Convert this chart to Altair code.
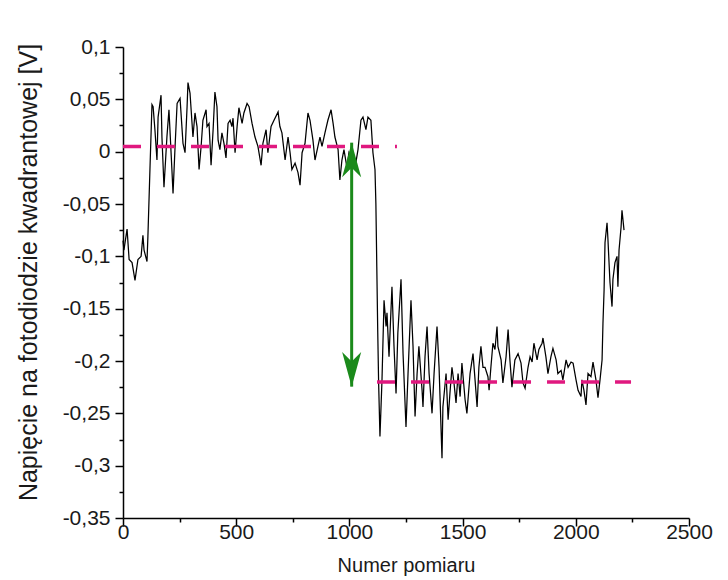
import altair as alt
import pandas as pd

meas = [0, 4, 18, 27, 40, 53, 66, 80, 88, 93, 106, 110, 119, 128, 133, 141, 150, 155, 168, 172,
        181, 194, 203, 216, 221, 230, 239, 252, 265, 274, 283, 287, 296, 309, 318, 327, 336, 345,
        353, 367, 371, 380, 389, 398, 406, 415, 420, 428, 437, 446, 455, 464, 473, 481, 486, 495,
        504, 512, 526, 534, 548,
        557, 570, 583, 596, 610, 618, 632, 640, 654, 667, 685, 693, 702, 716, 729, 738, 746, 760,
        773, 782, 791, 804, 817, 826, 839, 848, 861, 870, 879, 892, 905, 919, 928, 936, 950, 958,
        967, 976, 989, 998, 1011, 1025, 1038, 1051, 1060, 1073, 1082, 1095, 1104, 1113,
        1117, 1121, 1125, 1129, 1135, 1144, 1153, 1162, 1166, 1175, 1188, 1197, 1206, 1214, 1228,
        1237, 1250, 1259, 1272, 1281, 1290, 1299, 1307, 1321, 1325, 1334, 1343, 1352, 1365, 1374,
        1387, 1396, 1409, 1413, 1427, 1436, 1444, 1453, 1462, 1471, 1480, 1489, 1497, 1511, 1519,
        1533, 1546, 1555, 1564, 1572, 1581, 1590,
        1599, 1612, 1617, 1625, 1634, 1643, 1652, 1656, 1670, 1678, 1692, 1701, 1709, 1718, 1731,
        1745, 1758, 1767, 1776, 1789, 1798, 1807, 1815, 1829, 1837, 1851, 1855, 1868, 1877, 1890,
        1899, 1913, 1921, 1935, 1943, 1957, 1966, 1979, 1988, 2001, 2010, 2023, 2027, 2036, 2045,
        2054, 2067, 2076, 2089, 2098, 2107, 2116, 2120, 2125, 2129, 2138, 2142, 2151, 2160, 2164,
        2173, 2182, 2186, 2191, 2200, 2204, 2213]
volt = [-0.085, -0.094, -0.074, -0.103, -0.106, -0.123, -0.103, -0.100, -0.080, -0.094, -0.105,
        -0.081, -0.017, 0.045, 0.043, 0.021, -0.008, 0.033, 0.054, 0.014,
        -0.034, 0.014, 0.040, -0.017, -0.040, 0.005, 0.046, 0.051, 0.008, -0.001, 0.043, 0.066,
        0.056, 0.014, 0.037, 0.024, -0.017, 0.005, 0.030, 0.040, 0.024, 0.027, -0.013, 0.021,
        0.057, 0.043, 0.011, 0.002, 0.018, 0.008, -0.006, 0.027, 0.030, 0.024, 0.032, -0.001,
        0.024, 0.042, 0.027, 0.037, 0.046,
        0.043, 0.027, 0.014, 0.005, -0.013, 0.008, 0.021, -0.001, 0.024, 0.030, 0.038, 0.024,
        0.018, -0.008, 0.014, -0.001, -0.017, -0.011, -0.020, -0.032, -0.001, 0.008, 0.037,
        0.030, 0.011, -0.008, 0.005, 0.014, 0.005, 0.018, 0.030, 0.040, 0.027, 0.014, 0.002,
        -0.027, -0.008, 0.002, -0.015, -0.001, -0.008, -0.015, 0.002, 0.030, 0.033, 0.021,
        0.033, 0.030, -0.001, -0.017,
        -0.050, -0.110, -0.170, -0.220, -0.272, -0.218, -0.142, -0.167, -0.154, -0.196, -0.129,
        -0.186, -0.231, -0.173, -0.122, -0.193, -0.263, -0.212, -0.142, -0.186, -0.253, -0.212,
        -0.186, -0.228, -0.244, -0.196, -0.167, -0.212, -0.250, -0.212, -0.167, -0.206, -0.293,
        -0.244, -0.212, -0.256, -0.231, -0.206, -0.221, -0.240, -0.212, -0.234, -0.202, -0.237,
        -0.250, -0.212, -0.193, -0.218, -0.244, -0.206, -0.186, -0.206,
        -0.206, -0.215, -0.228, -0.206, -0.183, -0.189, -0.167, -0.186, -0.199, -0.221, -0.196,
        -0.170, -0.199, -0.225, -0.199, -0.193, -0.202, -0.221, -0.226, -0.206, -0.196, -0.201,
        -0.183, -0.199, -0.189, -0.183, -0.178, -0.196, -0.212, -0.196, -0.188, -0.199, -0.212,
        -0.209, -0.218, -0.199, -0.206, -0.201, -0.202, -0.218, -0.228, -0.234, -0.218, -0.228,
        -0.242, -0.212, -0.215, -0.201, -0.218, -0.235, -0.218, -0.199, -0.164, -0.132, -0.087,
        -0.068, -0.084, -0.125, -0.148, -0.122, -0.106, -0.100, -0.129, -0.094, -0.072, -0.056,
        -0.075]

# dashed reference levels
level_y = [0.005, -0.22]
level_start = [0, 1122]
level_end = [1210, 2244]

# double-headed arrow
arrow_x = [1010]
arrow_top = [0.0086]
arrow_bottom = [-0.2245]

x_ticks = [0, 250, 500, 750, 1000, 1250, 1500, 1750, 2000, 2250, 2500]
y_ticks = [0.1, 0.075, 0.05, 0.025, 0.0, -0.025, -0.05, -0.075, -0.1, -0.125, -0.15, -0.175,
           -0.2, -0.225, -0.25, -0.275, -0.3, -0.325, -0.35]

FONT = "Liberation Sans"
PINK = "#E0187F"
GREEN = "#1B8A1B"

xscale = alt.Scale(domain=[0, 2500], nice=False, zero=False)
yscale = alt.Scale(domain=[-0.35, 0.1], nice=False, zero=False)

x_major = "datum.value % 500 === 0"
y_major = "abs(round(datum.value * 1000)) % 50 === 0"

x_axis = alt.Axis(
    values=x_ticks,
    labelExpr=f"{x_major} ? toString(datum.value) : ''",
    tickSize={"condition": {"test": x_major, "value": 8}, "value": 4},
    labelFlush=False, labelOverlap=False, grid=False,
    labelPadding=-5,
    title="Numer pomiaru", titleX=283, titleY=47, titleBaseline="middle",
)
y_axis = alt.Axis(
    values=y_ticks,
    labelExpr=f"{y_major} ? replace(toString(datum.value), '.', ',') : ''",
    tickSize={"condition": {"test": y_major, "value": 8}, "value": 4},
    labelFlush=False, labelOverlap=False, grid=False,
    labelPadding=5,
    title="Napięcie na fotodiodzie kwadrantowej [V]",
    titleX=-95, titleY=225, titleBaseline="middle", titleFontSize=25,
)

df = pd.DataFrame({"m": meas, "v": volt})
line = alt.Chart(df).mark_line(color="black", strokeWidth=1.25).encode(
    x=alt.X("m:Q", scale=xscale, axis=x_axis),
    y=alt.Y("v:Q", scale=yscale, axis=y_axis),
)

lv = pd.DataFrame({"y": level_y, "x0": level_start, "x1": level_end})
levels = alt.Chart(lv).mark_rule(color=PINK, strokeWidth=3.5, strokeDash=[18, 16], strokeCap="butt").encode(
    x=alt.X("x0:Q", scale=xscale, axis=x_axis),
    x2="x1:Q",
    y=alt.Y("y:Q", scale=yscale, axis=y_axis),
)

ar = pd.DataFrame({"x": arrow_x, "top": arrow_top, "bot": arrow_bottom})
shaft = alt.Chart(ar).mark_rule(color=GREEN, strokeWidth=3).encode(
    x=alt.X("x:Q", scale=xscale, axis=x_axis),
    y=alt.Y("top:Q", scale=yscale, axis=y_axis),
    y2="bot:Q",
)
head_up = alt.Chart(ar).mark_point(
    shape="M0,0 L0.55,2 L0,1.45 L-0.55,2 Z", size=1200, filled=True, color=GREEN, opacity=1
).encode(
    x=alt.X("x:Q", scale=xscale, axis=x_axis),
    y=alt.Y("top:Q", scale=yscale, axis=y_axis),
)
head_down = alt.Chart(ar).mark_point(
    shape="M0,0 L0.55,-2 L0,-1.45 L-0.55,-2 Z", size=1200, filled=True, color=GREEN, opacity=1
).encode(
    x=alt.X("x:Q", scale=xscale, axis=x_axis),
    y=alt.Y("bot:Q", scale=yscale, axis=y_axis),
)

chart = alt.layer(line, levels, shaft, head_up, head_down).properties(
    width=566, height=471,
    autosize=alt.AutoSizeParams(type="none"),
    padding={"left": 123, "top": 47, "right": 39, "bottom": 62},
    background="white",
).configure_view(stroke=None).configure_axis(
    domainColor="black", domainWidth=1.5, tickColor="black", tickWidth=1.5,
    labelFont=FONT, labelFontSize=21, labelColor="#1a1a1a",
    titleFont=FONT, titleFontSize=20, titleFontWeight="normal", titleColor="#1a1a1a",
)

chart.save("out.html", embed_options={"renderer": "svg", "actions": False})
